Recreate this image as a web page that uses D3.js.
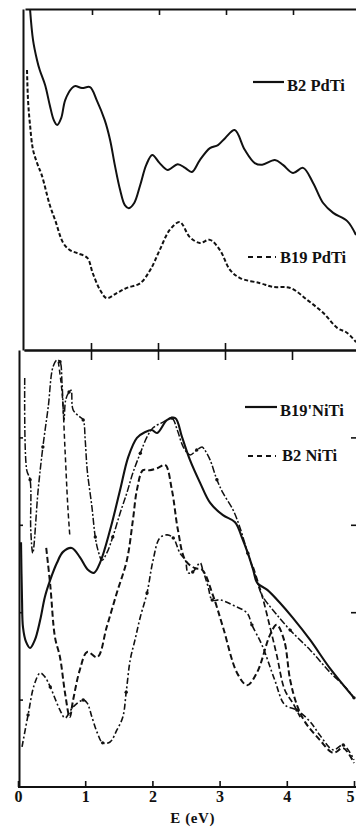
<!DOCTYPE html>
<html><head><meta charset="utf-8">
<script src="https://cdn.jsdelivr.net/npm/d3@7/dist/d3.min.js"></script>
<style>
html,body{margin:0;padding:0;background:#fff;}
svg{display:block;}
text{font-family:"Liberation Serif","DejaVu Serif",serif;fill:#111;}
</style></head>
<body>
<svg id="chart" width="356" height="828"></svg>
<script>
// ---------- DATA (E in eV, intensity in arbitrary units 0..10) ----------
const xTicks = [0, 1, 2, 3, 4, 5];
const xLabel = "E (eV)";
const seriesNamesTop = ["B2 PdTi", "B19 PdTi"];
const seriesNamesBottom = ["B19'NiTi", "B2 NiTi"];

// top panel
const b2PdTi = [[0.075,10.0],[0.12,9.09],[0.18,8.50],[0.22,8.21],[0.30,7.77],[0.37,7.18],[0.43,6.74],[0.48,6.60],[0.54,6.80],[0.60,7.33],[0.70,7.68],[0.75,7.74],[0.85,7.68],[0.97,7.71],[1.07,7.33],[1.19,6.74],[1.27,6.16],[1.34,5.43],[1.42,4.69],[1.49,4.25],[1.55,4.16],[1.63,4.31],[1.72,4.84],[1.81,5.43],[1.90,5.72],[2.01,5.48],[2.13,5.28],[2.28,5.45],[2.39,5.34],[2.49,5.22],[2.61,5.57],[2.76,5.92],[2.88,6.01],[2.99,6.22],[3.13,6.45],[3.28,5.87],[3.43,5.48],[3.54,5.43],[3.73,5.57],[3.85,5.43],[4.00,5.19],[4.15,5.34],[4.30,4.90],[4.45,4.31],[4.60,4.02],[4.81,3.78],[4.94,3.37]];
const b19PdTi = [[0.03,8.21],[0.045,7.33],[0.075,6.60],[0.12,5.87],[0.19,5.43],[0.25,5.13],[0.37,4.25],[0.45,3.81],[0.57,3.14],[0.67,2.93],[0.78,2.84],[0.93,2.70],[1.01,2.26],[1.12,1.76],[1.22,1.52],[1.37,1.67],[1.52,1.82],[1.72,1.96],[1.87,2.35],[2.01,2.93],[2.16,3.52],[2.31,3.75],[2.46,3.31],[2.61,3.14],[2.76,3.23],[2.91,2.93],[3.06,2.35],[3.21,2.11],[3.51,1.96],[3.70,1.85],[3.96,1.82],[4.21,1.47],[4.45,1.09],[4.66,0.65],[4.81,0.50],[4.94,0.23]];

// bottom panel
const b19NiTiCalc = [[0.045,5.6],[0.06,4.28],[0.074,3.66],[0.12,3.32],[0.18,3.18],[0.25,3.36],[0.33,3.82],[0.40,4.35],[0.48,4.74],[0.58,5.13],[0.67,5.38],[0.80,5.47],[0.92,5.26],[1.04,4.97],[1.13,4.90],[1.22,5.13],[1.37,5.88],[1.52,6.80],[1.64,7.55],[1.77,7.99],[1.89,8.12],[1.99,8.17],[2.07,8.10],[2.22,8.40],[2.34,8.44],[2.44,8.01],[2.56,7.48],[2.71,6.96],[2.86,6.50],[3.05,6.22],[3.23,6.06],[3.33,5.72],[3.42,5.35],[3.50,4.97],[3.56,4.67],[3.71,4.51],[3.90,4.21],[4.09,3.87],[4.35,3.36],[4.64,2.72],[5.0,2.04]];
const b19NiTiExp = [[0.10,9.36],[0.13,7.25],[0.18,7.03],[0.19,5.88],[0.22,5.35],[0.30,6.80],[0.37,7.78],[0.45,8.70],[0.52,9.61],[0.58,9.77],[0.625,9.73],[0.655,9.24],[0.685,8.40],[0.71,8.86],[0.76,9.04],[0.79,9.08],[0.82,8.63],[0.92,8.47],[0.97,8.40],[1.00,7.94],[1.03,7.25],[1.10,6.41],[1.15,5.72],[1.19,5.42],[1.25,5.19],[1.32,5.35],[1.41,5.72],[1.52,6.27],[1.62,6.73],[1.71,7.19],[1.82,7.64],[1.92,8.01],[2.01,8.22],[2.16,8.35],[2.29,8.44],[2.37,8.17],[2.46,7.78],[2.56,7.60],[2.66,7.71],[2.74,7.78],[2.78,7.71],[2.86,7.48],[2.96,7.03],[3.05,6.73],[3.20,6.34],[3.30,5.95],[3.42,5.35],[3.53,4.85],[3.63,4.39],[3.82,4.00],[4.05,3.59],[4.35,3.13],[4.64,2.63],[4.88,2.27],[5.0,2.04]];
const peakDrop = [[0.60,9.73],[0.655,9.04],[0.70,7.71],[0.74,6.45],[0.77,5.77]];
const b2NiTiCalc = [[0.42,5.47],[0.48,4.62],[0.55,3.43],[0.625,2.97],[0.70,2.15],[0.77,1.60],[0.82,1.99],[0.92,2.68],[1.03,3.09],[1.18,2.97],[1.32,3.66],[1.47,4.44],[1.62,5.19],[1.71,6.11],[1.77,6.80],[1.86,7.25],[1.96,7.25],[2.08,7.30],[2.19,7.37],[2.29,6.80],[2.38,5.88],[2.49,5.19],[2.63,5.01],[2.74,4.97],[2.90,4.39],[3.05,3.66],[3.26,2.61],[3.41,2.33],[3.56,2.63],[3.75,3.48],[3.85,3.71],[3.96,3.36],[4.05,2.45],[4.15,1.88],[4.27,1.49],[4.49,1.08],[4.69,0.78],[4.84,0.89],[5.0,0.55]];
const b2NiTiExp = [[0.06,0.92],[0.15,1.65],[0.24,2.33],[0.33,2.61],[0.40,2.52],[0.48,2.29],[0.625,1.76],[0.70,1.58],[0.82,1.83],[0.97,1.99],[1.03,1.92],[1.10,1.60],[1.18,1.24],[1.26,1.01],[1.37,1.03],[1.47,1.30],[1.56,1.60],[1.61,2.17],[1.67,2.91],[1.74,3.36],[1.82,3.89],[1.92,4.44],[2.01,5.19],[2.11,5.70],[2.22,5.77],[2.31,5.70],[2.41,5.35],[2.49,5.19],[2.53,4.90],[2.60,4.92],[2.71,5.13],[2.75,4.97],[2.83,4.58],[2.89,4.28],[3.01,4.28],[3.20,4.16],[3.41,3.98],[3.48,3.71],[3.63,3.25],[3.82,2.45],[3.97,1.88],[4.15,1.76],[4.35,1.49],[4.49,1.19],[4.69,0.85],[4.84,0.96],[5.0,0.62]];
const steepDrop = [[3.50,5.03],[3.63,4.39],[3.75,3.66],[3.85,3.02],[3.97,2.22],[4.09,1.92],[4.20,1.60]];

// ---------- SCALES ----------
const svg = d3.select("#chart");
svg.append("rect").attr("width",356).attr("height",828).attr("fill","#fff");

const xTop = d3.scaleLinear().domain([0,5]).range([25,360]);
const xMid = d3.scaleLinear().domain([0,5]).range([24,359]);
const xBot = d3.scaleLinear().domain([0,5]).range([18,354]);
const yTop = d3.scaleLinear().domain([0,10]).range([350,9]);
const yBot = d3.scaleLinear().domain([0,10]).range([787,350]);

const defs = svg.append("defs");
defs.append("clipPath").attr("id","clipTop").append("rect").attr("x",23).attr("y",9).attr("width",340).attr("height",341);
defs.append("clipPath").attr("id","clipBot").append("rect").attr("x",19).attr("y",350).attr("width",340).attr("height",437);

const lineTop = d3.line().x(d=>xTop(d[0])).y(d=>yTop(d[1])).curve(d3.curveCatmullRom.alpha(0.5));
const lineBot = d3.line().x(d=>xBot(d[0])).y(d=>yBot(d[1])).curve(d3.curveCatmullRom.alpha(0.5));

// ---------- AXES ----------
function styleAxis(g){
  g.selectAll("path.domain").attr("stroke","#111").attr("stroke-width",2);
  g.selectAll(".tick line").attr("stroke","#111").attr("stroke-width",1.6);
}
svg.append("g").attr("transform","translate(0,9)")
  .call(d3.axisBottom(xTop).tickValues([1,2,3,4]).tickSizeInner(6).tickSizeOuter(0).tickFormat(""))
  .call(styleAxis);
svg.append("g").attr("transform","translate(23,0)")
  .call(d3.axisLeft(yTop).tickValues([]).tickSizeOuter(0))
  .call(styleAxis);
svg.append("g").attr("transform","translate(0,350)")
  .call(d3.axisBottom(xMid).tickValues([1,2,3,4]).tickSizeInner(10).tickSizeOuter(0).tickFormat(""))
  .call(styleAxis);
svg.append("g").attr("transform","translate(0,350)")
  .call(d3.axisTop(xMid).tickValues([1,2,3]).tickSizeInner(7).tickSizeOuter(0).tickFormat(""))
  .call(styleAxis);
svg.append("g").attr("transform","translate(19,0)")
  .call(d3.axisLeft(yBot).tickValues([2,4,6,8]).tickSizeInner(-4).tickSizeOuter(0).tickFormat(""))
  .call(styleAxis);
const rg = svg.append("g").attr("transform","translate(357,0)")
  .call(d3.axisRight(yBot).tickValues([4,6,8]).tickSizeInner(-6).tickSizeOuter(0).tickFormat(""))
  .call(styleAxis);
rg.select("path.domain").remove();
const xg = svg.append("g").attr("transform","translate(0,787)")
  .call(d3.axisBottom(xBot).tickValues(xTicks).tickSizeInner(-6).tickSizeOuter(0).tickPadding(4).tickFormat(d3.format("d")))
  .call(styleAxis);
xg.select("path.domain").attr("d","M18,0H356");
xg.selectAll(".tick text").attr("font-family","Liberation Serif, serif").attr("font-size",16).attr("font-weight","bold").attr("fill","#111");
xg.selectAll(".tick text").filter(d=>d===5).attr("dx",-4);
svg.append("text").attr("x",xBot(2.6)).attr("y",823).attr("text-anchor","middle")
  .attr("font-size",15).attr("font-weight","bold").attr("letter-spacing",0.6).text(xLabel);

// ---------- CURVES ----------
const gTop = svg.append("g").attr("clip-path","url(#clipTop)");
gTop.append("path").datum(b2PdTi).attr("d",lineTop).attr("fill","none").attr("stroke","#111").attr("stroke-width",2);
gTop.append("path").datum(b19PdTi).attr("d",lineTop).attr("fill","none").attr("stroke","#111").attr("stroke-width",2).attr("stroke-dasharray","4,2.2");

const gBot = svg.append("g").attr("clip-path","url(#clipBot)");
gBot.append("path").datum(b19NiTiCalc).attr("d",lineBot).attr("fill","none").attr("stroke","#111").attr("stroke-width",2.1);
gBot.append("path").datum(b19NiTiExp).attr("d",lineBot).attr("fill","none").attr("stroke","#111").attr("stroke-width",1.5).attr("stroke-dasharray","7,2,2,2");
gBot.append("path").datum(peakDrop).attr("d",lineBot).attr("fill","none").attr("stroke","#111").attr("stroke-width",1.5).attr("stroke-dasharray","5,3");
gBot.append("path").datum(b2NiTiCalc).attr("d",lineBot).attr("fill","none").attr("stroke","#111").attr("stroke-width",2).attr("stroke-dasharray","6,3");
gBot.append("path").datum(b2NiTiExp).attr("d",lineBot).attr("fill","none").attr("stroke","#111").attr("stroke-width",1.6).attr("stroke-dasharray","6,2.5,2,2.5");
gBot.append("path").datum(steepDrop).attr("d",lineBot).attr("fill","none").attr("stroke","#111").attr("stroke-width",1.7).attr("stroke-dasharray","6,3");

gBot.selectAll("circle.m1").data(b19NiTiExp.filter((d,i)=>i%4===2)).enter().append("circle")
  .attr("cx",d=>xBot(d[0])).attr("cy",d=>yBot(d[1])).attr("r",1.7).attr("fill","#111");
gBot.selectAll("circle.m2").data(b2NiTiExp.filter((d,i)=>i%4===1)).enter().append("circle")
  .attr("cx",d=>xBot(d[0])).attr("cy",d=>yBot(d[1])).attr("r",1.7).attr("fill","#111");

// ---------- LEGENDS ----------
function legend(x1,x2,yl,tx,ty,label,dash){
  const l = svg.append("line").attr("x1",x1).attr("x2",x2).attr("y1",yl).attr("y2",yl)
    .attr("stroke","#111").attr("stroke-width",2.2);
  if(dash) l.attr("stroke-dasharray",dash);
  svg.append("text").attr("x",tx).attr("y",ty).attr("font-size",16.5).attr("font-weight","bold").text(label);
}
legend(253,284,82,287,91,seriesNamesTop[0],null);
legend(248,276,257,280,263,seriesNamesTop[1],"5,4");
legend(245,277,407,280,416,seriesNamesBottom[0],null);
legend(248,276,456,282,461,seriesNamesBottom[1],"5,4");
</script>
</body></html>
